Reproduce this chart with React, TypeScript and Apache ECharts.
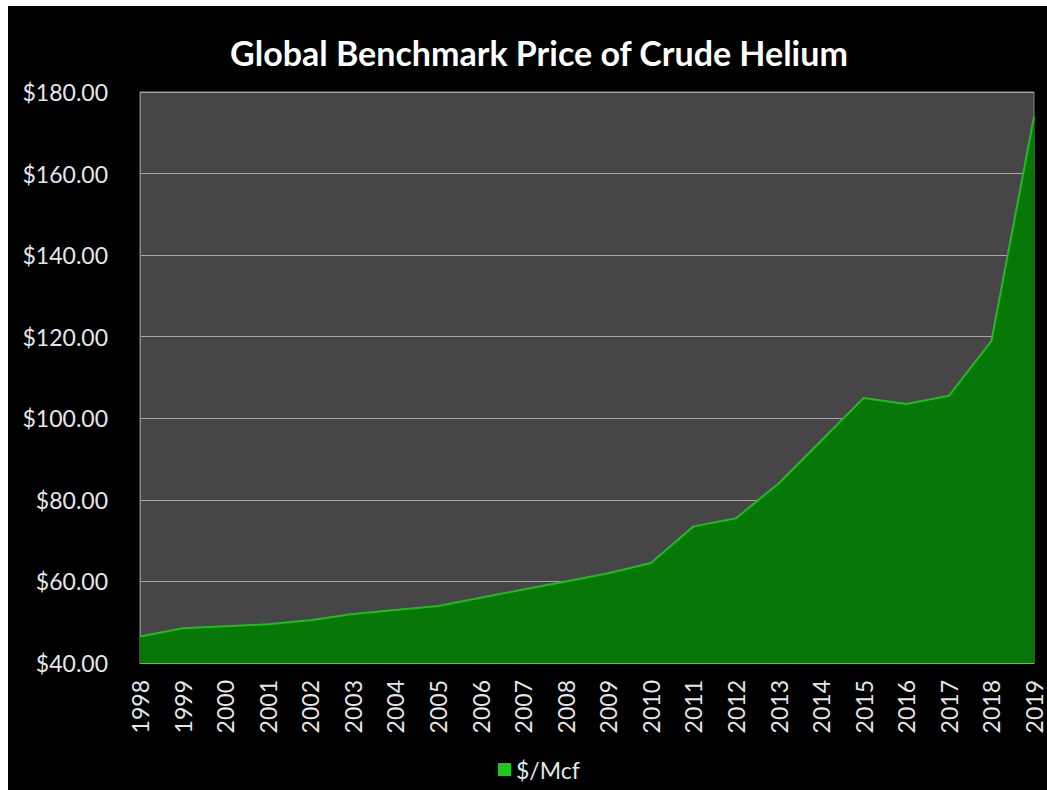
import React, { useEffect, useRef } from "react";
import * as echarts from "echarts";

const years = [
  "1998", "1999", "2000", "2001", "2002", "2003", "2004", "2005", "2006", "2007", "2008",
  "2009", "2010", "2011", "2012", "2013", "2014", "2015", "2016", "2017", "2018", "2019",
];
const pricePerMcf = [
  46.5, 48.5, 49, 49.5, 50.5, 52, 53, 54, 56, 58, 60,
  62, 64.5, 73.5, 75.5, 84, 94.5, 105, 103.5, 105.5, 119, 174,
];
const yMin = 40;
const yMax = 180;
const yStep = 20;

const FONT = "Lato, 'Open Sans', sans-serif";

export default function App() {
  const ref = useRef<HTMLDivElement>(null);
  useEffect(() => {
    if (!ref.current) return;
    const chart = echarts.init(ref.current, undefined, { renderer: "svg" });
    chart.setOption({
      animation: false,
      backgroundColor: "#000000",
      title: {
        text: "Global Benchmark Price of Crude Helium",
        left: 526,
        top: 20,
        textAlign: "center",
        textStyle: {
          color: "#ffffff",
          fontFamily: FONT,
          fontWeight: "bold",
          fontSize: 34,
          lineHeight: 42,
        },
      },
      legend: {
        left: 485,
        top: 747,
        icon: "rect",
        itemWidth: 13,
        itemHeight: 13,
        itemGap: 10,
        textStyle: { color: "#e6e6e6", fontFamily: FONT, fontSize: 23 },
        data: [{ name: "$/Mcf", itemStyle: { color: "#1ec81e" } }],
      },
      grid: {
        left: 132,
        right: 13,
        top: 86,
        bottom: 127,
        show: true,
        backgroundColor: "#464646",
        borderColor: "#8a8a8a",
        borderWidth: 1,
      },
      xAxis: {
        type: "category",
        data: years,
        boundaryGap: false,
        axisLine: { show: true, lineStyle: { color: "#9a9a9a", width: 1 } },
        axisTick: { show: false },
        axisLabel: {
          interval: 0,
          rotate: 90,
          margin: 17,
          color: "#e6e6e6",
          fontFamily: FONT,
          fontSize: 23,
        },
        splitLine: { show: false },
      },
      yAxis: {
        type: "value",
        min: yMin,
        max: yMax,
        interval: yStep,
        axisLine: { show: true, lineStyle: { color: "#8a8a8a" } },
        axisTick: { show: false },
        axisLabel: {
          margin: 32,
          color: "#e6e6e6",
          fontFamily: FONT,
          fontSize: 23,
          formatter: (v: number) => "$" + v.toFixed(2),
        },
        splitLine: { show: true, lineStyle: { color: "#a8a8a8", width: 1 } },
      },
      series: [
        {
          name: "$/Mcf",
          type: "line",
          data: pricePerMcf,
          symbol: "none",
          lineStyle: { color: "#18c018", width: 2 },
          itemStyle: { color: "#1ec81e" },
          areaStyle: { color: "#077807", opacity: 1 },
          z: 3,
        },
      ],
    });
    return () => chart.dispose();
  }, []);
  return (
    <div
      ref={ref}
      style={{ position: "absolute", left: 8, top: 6, width: 1039, height: 784, background: "#000" }}
    />
  );
}
